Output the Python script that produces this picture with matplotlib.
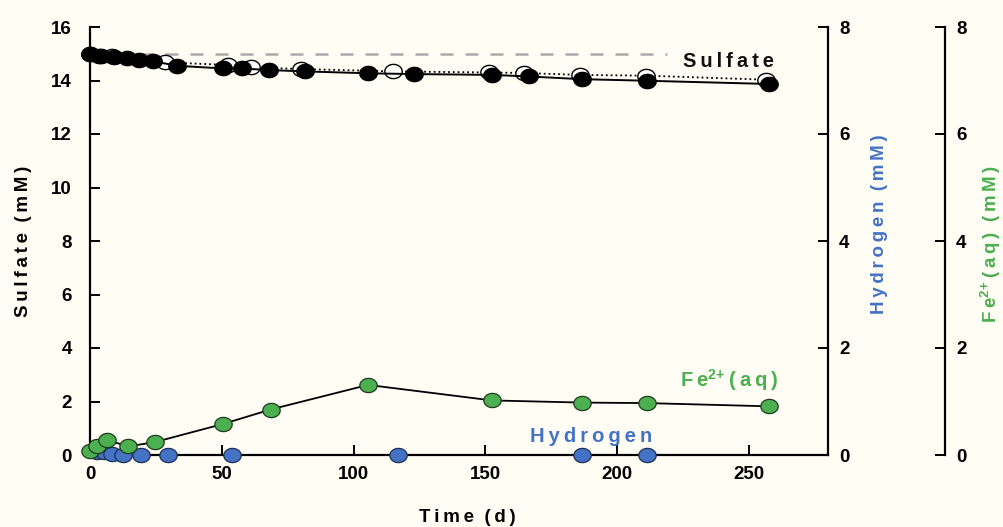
import matplotlib
matplotlib.use("Agg")
import matplotlib.pyplot as plt
import numpy as np
from matplotlib.path import Path

# ---------------- data ----------------
sulfate_time = [0, 4, 9, 14, 18.5, 24, 33, 50.5, 57.5, 68, 81.5, 105.5, 123, 152.5, 166.5, 186.5, 211.5, 257.5]
sulfate = [15.0, 14.93, 14.88, 14.83, 14.75, 14.72, 14.55, 14.45, 14.45, 14.39, 14.34, 14.27, 14.24, 14.21, 14.15, 14.05, 13.99, 13.87]

sulfate_ctrl_time = [0, 3.5, 8.5, 28.5, 52.5, 61, 80, 115, 151.5, 164.5, 186, 211, 256.5]
sulfate_ctrl = [15.0, 14.93, 14.9, 14.68, 14.58, 14.49, 14.43, 14.34, 14.30, 14.28, 14.21, 14.18, 14.03]

initial_time = [0, 219]
initial_sulfate = [15.0, 15.0]

fe_time = [0, 2.5, 6.5, 14.5, 24.5, 50.5, 68.5, 105.5, 152.5, 186.5, 211.5, 257.5]
fe = [0.07, 0.17, 0.28, 0.16, 0.24, 0.58, 0.85, 1.31, 1.02, 0.98, 0.97, 0.91]

h2_time = [2.5, 5.5, 8.5, 12.5, 19.5, 29.5, 54, 117, 186.5, 211.5]
h2 = [0.06, 0.06, 0.02, 0.0, 0.0, 0.0, 0.0, 0.0, 0.0, 0.0]

x_ticks = [0, 50, 100, 150, 200, 250]
left_ticks = [0, 2, 4, 6, 8, 10, 12, 14, 16]
right_ticks = [0, 2, 4, 6, 8]

# ---------------- style ----------------
BG = "#fffdf4"
GREEN = "#4caf50"
BLUE = "#4472c4"
FONT = "Liberation Sans"
TS = "\u2009"  # thin space for letter spacing


def spaced(s):
    return "  ".join(TS.join(w) for w in s.split(" "))


FE = "F" + TS + "e$^{2{+}}$" + TS + spaced("(aq)")

plt.rcParams["font.family"] = [FONT, "DejaVu Sans"]
plt.rcParams["font.weight"] = "bold"
plt.rcParams["mathtext.fontset"] = "custom"
plt.rcParams["mathtext.rm"] = "Liberation Sans:bold"
plt.rcParams["mathtext.bf"] = "Liberation Sans:bold"
plt.rcParams["mathtext.it"] = "Liberation Sans:bold"
plt.rcParams["mathtext.default"] = "bf"

# elliptical marker (wider than tall)
t = np.linspace(0, 2 * np.pi, 60)
ell = Path(np.column_stack([np.cos(t), 0.82 * np.sin(t)]), closed=True)
MS = 12.5

fig = plt.figure(figsize=(10.04, 5.27), dpi=100, facecolor=BG)
L, R, B, T = 90, 828, 455, 27
W, H = 1004, 527
ax = fig.add_axes([L / W, (H - B) / H, (R - L) / W, (B - T) / H])
ax.set_facecolor(BG)
ax.patch.set_alpha(0)

ax2 = ax.twinx()
ax3 = ax.twinx()
ax3.spines["right"].set_position(("axes", (945 - L) / (R - L)))

for a in (ax, ax2, ax3):
    a.set_xlim(0, 280)
    for s in ("top", "left", "bottom", "right"):
        a.spines[s].set_visible(False)

ax.set_ylim(0, 16)
ax2.set_ylim(0, 8)
ax3.set_ylim(0, 8)

ax.spines["left"].set_visible(True)
ax.spines["bottom"].set_visible(True)
ax2.spines["right"].set_visible(True)
ax3.spines["right"].set_visible(True)
for a, s in ((ax, "left"), (ax, "bottom"), (ax2, "right"), (ax3, "right")):
    a.spines[s].set_linewidth(1.6)
    a.spines[s].set_color("black")

ax.set_xticks(x_ticks)
ax.set_yticks(left_ticks)
ax2.set_yticks(right_ticks)
ax3.set_yticks(right_ticks)
ax.tick_params(axis="x", direction="in", length=7, width=1.4, pad=8, labelsize=13.5)
ax.tick_params(axis="y", direction="in", length=7, width=1.4, pad=13, labelsize=13.5)
ax2.tick_params(axis="y", direction="in", length=7, width=1.4, pad=8, labelsize=13.5)
ax3.tick_params(axis="y", direction="in", length=7, width=1.4, pad=8, labelsize=13.5)
for a in (ax, ax2, ax3):
    for lab in a.get_xticklabels() + a.get_yticklabels():
        lab.set_fontweight("bold")

ax.set_xlabel(spaced("Time (d)"), fontsize=13.5, fontweight="bold", labelpad=20)
ax.xaxis.set_label_coords((467 - L) / (R - L), -(517 - B) / (B - T))
ax.xaxis.label.set_va("center")
ax.set_ylabel(spaced("Sulfate (mM)"), fontsize=13.5, fontweight="bold", labelpad=14)
ax2.set_ylabel(spaced("Hydrogen (mM)"), fontsize=13.5, fontweight="bold", color=BLUE)
ax2.yaxis.set_label_coords((871 - L) / (R - L), (455 - 224) / (B - T))
ax3.set_ylabel(FE + "  " + spaced("(mM)"), fontsize=13.5, fontweight="bold", color=GREEN)
ax3.yaxis.set_label_coords((979 - L) / (R - L), (455 - 244) / (B - T))

# ---------------- plot ----------------
ax.plot(initial_time, initial_sulfate, ls=(0, (5.2, 4.8)), color="#aaaaaa", lw=1.8, zorder=1)
ax.plot(sulfate_ctrl_time, sulfate_ctrl, ls=":", color="black", lw=1.3, marker=ell, ms=MS,
        mfc="white", mec="black", mew=1.0, zorder=3, clip_on=False)
ax.plot(sulfate_time, sulfate, ls="-", color="black", lw=1.4, marker=ell, ms=MS,
        mfc="black", mec="black", mew=1.0, zorder=4, clip_on=False)

ax3.plot(fe_time, fe, ls="-", color="black", lw=1.3, marker=ell, ms=MS,
         mfc=GREEN, mec="#1f3b1f", mew=0.9, zorder=4, clip_on=False)
ax2.plot(h2_time, h2, ls="none", marker=ell, ms=MS,
         mfc=BLUE, mec="#1f2f55", mew=0.9, zorder=4, clip_on=False)

ax.text(225, 14.72, spaced("Sulfate"), fontsize=14.5, fontweight="bold", color="#111111",
        ha="left", va="center")
ax3.text(224, 1.40, FE, fontsize=14.5, fontweight="bold", color=GREEN,
         ha="left", va="center")
ax2.text(167, 0.34, spaced("Hydrogen"), fontsize=14.5, fontweight="bold", color=BLUE,
         ha="left", va="center")

fig.savefig("out.png", dpi=100, facecolor=BG)
